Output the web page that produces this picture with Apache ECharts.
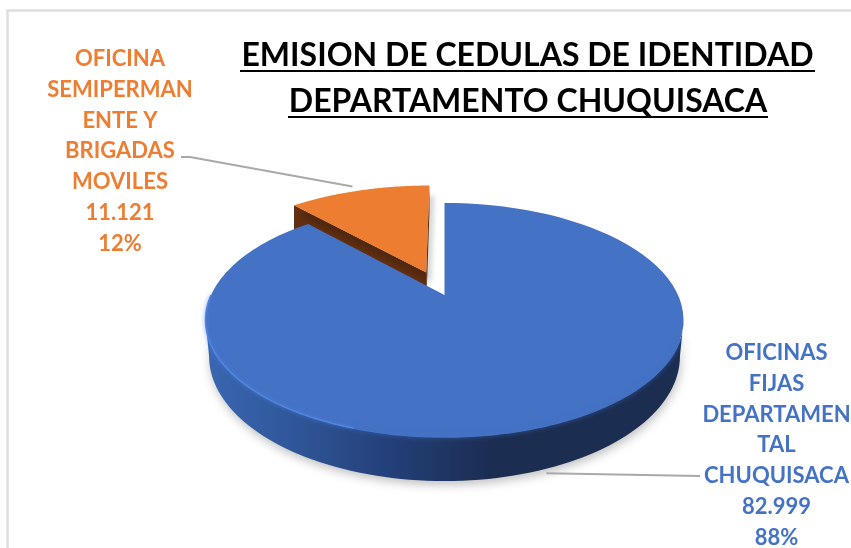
<!DOCTYPE html>
<html><head><meta charset="utf-8">
<style>html,body{margin:0;padding:0;background:#fff}#c{width:851px;height:548px}</style>
<script src="https://cdn.jsdelivr.net/npm/echarts@6/dist/echarts.min.js"></script>
</head><body><div id="c"></div>
<script>
const categories = ['OFICINAS FIJAS DEPARTAMENTAL CHUQUISACA', 'OFICINA SEMIPERMANENTE Y BRIGADAS MOVILES'];
const values = [82999, 11121];
const valueLabels = ['82.999', '11.121'];
const labelLines = [
  ['OFICINAS', 'FIJAS', 'DEPARTAMEN', 'TAL', 'CHUQUISACA'],
  ['OFICINA', 'SEMIPERMAN', 'ENTE Y', 'BRIGADAS', 'MOVILES']
];
const titleLines = ['EMISION DE CEDULAS DE IDENTIDAD', 'DEPARTAMENTO CHUQUISACA'];

const total = values.reduce((a, b) => a + b, 0);
const FONT = 'Lato, "Open Sans", sans-serif';
// perspective view of the pie disc
const V = { x0: 444.5, y0: 295, c: 233.5, b: 111.7, a: 0.2137, depth: 34.6, explode: 0.225, lift: 1.03, inset: 0.985 };
function proj(u, w) {
  const k = 1 + V.a * w;
  return [V.x0 + V.c * u / k, V.y0 - V.b * w / k, V.depth / k];
}
function arc(from, to, ox, oy, drop, r) {
  const pts = [], n = 90;
  for (let i = 0; i <= n; i++) {
    const t = from + (to - from) * i / n;
    const p = proj(ox + r * Math.sin(t), oy + r * Math.cos(t));
    pts.push(drop ? [V.x0 + (p[0] - V.x0) * V.inset, p[1] + p[2]] : [p[0], p[1]]);
  }
  return pts;
}
const G = echarts.graphic;
const renderItem = (params, api) => {
  const i = params.dataIndex, value = api.value(0);
  let before = 0;
  for (let k = 0; k < i; k++) before += values[k];
  const s = before / total * 2 * Math.PI, e = (before + value) / total * 2 * Math.PI;
  const mid = (s + e) / 2;
  const exploded = i === 1;
  const r = exploded ? V.lift : 1;
  const ox = exploded ? V.explode * Math.sin(mid) : 0, oy = exploded ? V.explode * Math.cos(mid) : 0;
  const apex = proj(ox, oy);
  const top = [[apex[0], apex[1]]].concat(arc(s, e, ox, oy, false, r));
  const kids = [];
  const color = i === 0 ? '#4472C4' : '#ED7D31';
  if (!exploded) {
    const a0 = Math.PI - Math.acos(V.a), a1 = Math.PI + Math.acos(V.a);
    const upper = arc(a0, a1, 0, 0, false, r), lower = arc(a0, a1, 0, 0, true, r).reverse();
    kids.push({ type: 'polygon', z2: 5, shape: { points: upper.concat(lower) },
      style: { fill: new G.LinearGradient(0, 0, 1, 0, [
        { offset: 0, color: '#3a67b3' }, { offset: 0.2, color: '#2f5596' },
        { offset: 0.38, color: '#24407a' }, { offset: 0.6, color: '#1b2d50' }, { offset: 1, color: '#1b2d50' }]),
        shadowBlur: 10, shadowColor: 'rgba(0,0,0,0.24)', shadowOffsetX: 1, shadowOffsetY: 4 } });
  } else {
    const corner = arc(s, e, ox, oy, false, r);
    const c0 = corner[0], pa = [apex[0], apex[1]], pb = [apex[0], apex[1] + apex[2]];
    const dropEnd = arc(s, e, ox, oy, true, r)[0];
    kids.push({ type: 'polygon', z2: 1, shape: { points: [pa, c0, [c0[0], dropEnd[1]], pb] },
      style: { fill: '#622f11' } });
    kids.push({ type: 'polygon', z2: 1, shape: { points: [pa, corner[90], [corner[90][0], corner[90][1] + 26], pb] },
      style: { fill: '#622f11' } });
  }
  kids.push({ type: 'polygon', z2: exploded ? 3 : 10, shape: { points: top },
    style: exploded
      ? { fill: color, shadowBlur: 5, shadowColor: 'rgba(0,0,0,0.16)', shadowOffsetX: 5, shadowOffsetY: 10 }
      : { fill: color } });
  if (!exploded) {
    kids.push({ type: 'polyline', z2: 11, shape: { points: arc(Math.PI * 0.62, Math.PI * 1.1, 0, 0, false, r) },
      style: { stroke: '#4472C4', lineWidth: 1.5, fill: 'none', shadowBlur: 5, shadowColor: '#4472C4' } });
    kids.push({ type: 'polyline', z2: 12, shape: { points: arc(Math.PI * 1.1, Math.PI * 1.5, 0, 0, false, r) },
      style: { stroke: '#5086e2', lineWidth: 1.5, fill: 'none', shadowBlur: 4, shadowColor: '#4f83e0' } });
  }
  // leader line anchored on the slice's mid angle
  const anchor = proj(ox + r * Math.sin(mid), oy + r * Math.cos(mid));
  const line = exploded
    ? [[anchor[0] - 7, anchor[1] - 4], [190, 157], [181, 157]]
    : [[anchor[0] - 4, anchor[1] + anchor[2] + 5], [700, 476]];
  kids.push({ type: 'polyline', z2: 20, shape: { points: line },
    style: { stroke: '#a9a9a9', lineWidth: 2, fill: 'none' } });
  // label block
  const block = labelLines[i].concat([valueLabels[i], Math.round(value / total * 100) + '%']);
  const cx = exploded ? 120 : 776.5, y0 = exploded ? 59 : 353;
  block.forEach((t, j) => kids.push({ type: 'text', z2: 30,
    style: { x: cx, y: y0 + j * 30.8, text: t, fill: color, align: 'center', verticalAlign: 'middle',
      font: 'bold 22px ' + FONT } }));
  return { type: 'group', children: kids };
};

const chart = echarts.init(document.getElementById('c'), null, { renderer: 'canvas' });
chart.setOption({
  animation: false,
  backgroundColor: '#fff',
  graphic: [
    { type: 'rect', shape: { x: 7.5, y: 10.5, width: 900, height: 600 }, style: { fill: 'none', stroke: '#dedede', lineWidth: 2.5 }, z: -1 },
    { type: 'text', style: { x: 527.5, y: 56, text: titleLines[0], align: 'center', verticalAlign: 'middle', fill: '#000', font: 'bold 32px ' + FONT } },
    { type: 'rect', shape: { x: 240, y: 70, width: 575, height: 2 }, style: { fill: '#000' } },
    { type: 'text', style: { x: 528, y: 102, text: titleLines[1], align: 'center', verticalAlign: 'middle', fill: '#000', font: 'bold 32px ' + FONT } },
    { type: 'rect', shape: { x: 288, y: 116, width: 480, height: 2 }, style: { fill: '#000' } }
  ],
  series: [{
    type: 'custom', coordinateSystem: 'none', renderItem,
    data: values.map((v, i) => ({ name: categories[i], value: [v] }))
  }]
});
</script></body></html>
